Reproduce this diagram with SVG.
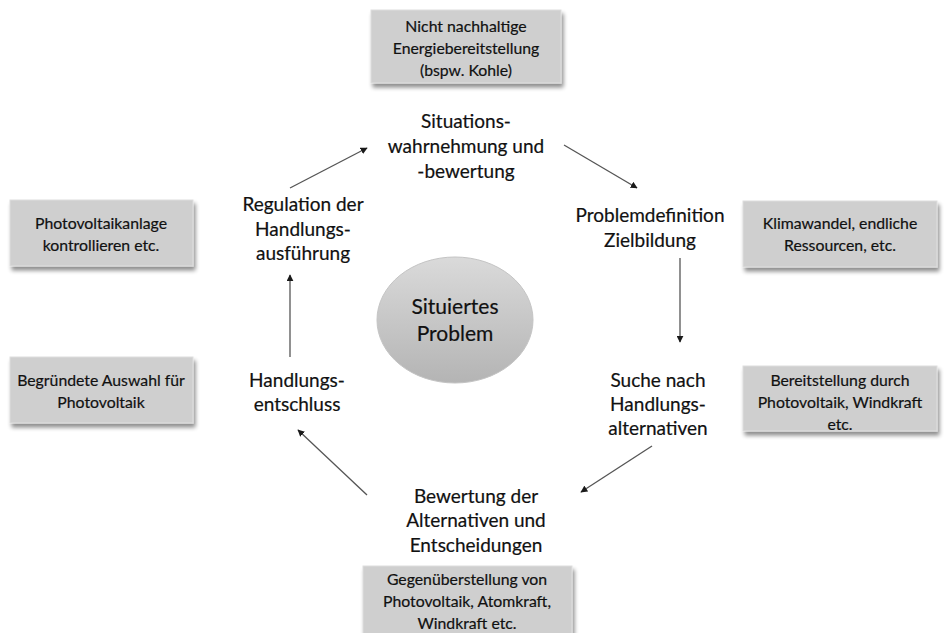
<svg xmlns="http://www.w3.org/2000/svg" width="947" height="633" viewBox="0 0 947 633">
<defs>
<filter id="sh" x="-10%" y="-10%" width="125%" height="135%">
<feGaussianBlur in="SourceAlpha" stdDeviation="2"/>
<feOffset dx="2" dy="4" result="b"/>
<feComponentTransfer><feFuncA type="linear" slope="0.45"/></feComponentTransfer>
<feMerge><feMergeNode/><feMergeNode in="SourceGraphic"/></feMerge>
</filter>
<linearGradient id="eg" x1="0" y1="0" x2="0" y2="1">
<stop offset="0" stop-color="#dadada"/>
<stop offset="1" stop-color="#b4b4b4"/>
</linearGradient>
<marker id="ah" viewBox="0 0 10 10" refX="9" refY="5" markerWidth="7" markerHeight="7" orient="auto" markerUnits="userSpaceOnUse">
<path d="M0,0 L10,5 L0,10 z" fill="#1a1a1a"/>
</marker>
</defs>
<style>
.box{fill:#cfcfcf;stroke:#dedede;stroke-width:1;filter:url(#sh)}
.bt{font-family:Lato,"Open Sans",sans-serif;font-size:15.8px;fill:#111;text-anchor:middle;stroke:#111;stroke-width:0.2}
.lt{font-family:Lato,"Open Sans",sans-serif;font-size:19px;fill:#111;text-anchor:middle;stroke:#111;stroke-width:0.2}
.cn{stroke:#555;stroke-width:1.3;fill:none;marker-end:url(#ah)}
</style>
<rect width="947" height="633" fill="#fff"/>

<g id="box-top"><rect class="box" x="371" y="10" width="190" height="73"/>
<text class="bt" x="466" y="32">Nicht nachhaltige</text>
<text class="bt" x="466" y="54">Energiebereitstellung</text>
<text class="bt" x="466" y="76">(bspw. Kohle)</text></g>

<g id="box-left-top"><rect class="box" x="10" y="200" width="183" height="66"/>
<text class="bt" x="101" y="229">Photovoltaikanlage</text>
<text class="bt" x="101" y="251">kontrollieren etc.</text></g>

<g id="box-right-top"><rect class="box" x="743" y="201" width="194" height="66"/>
<text class="bt" x="840" y="229">Klimawandel, endliche</text>
<text class="bt" x="840" y="251">Ressourcen, etc.</text></g>

<g id="box-left-bottom"><rect class="box" x="10" y="357" width="183" height="66"/>
<text class="bt" x="101" y="386">Begründete Auswahl für</text>
<text class="bt" x="101" y="408">Photovoltaik</text></g>

<g id="box-right-bottom"><rect class="box" x="743" y="366" width="194" height="65"/>
<text class="bt" x="840" y="386">Bereitstellung durch</text>
<text class="bt" x="840" y="408">Photovoltaik, Windkraft</text>
<text class="bt" x="840" y="430">etc.</text></g>

<g id="box-bottom"><rect class="box" x="363" y="566" width="209" height="70"/>
<text class="bt" x="467" y="585">Gegenüberstellung von</text>
<text class="bt" x="467" y="607">Photovoltaik, Atomkraft,</text>
<text class="bt" x="467" y="629">Windkraft etc.</text></g>

<g id="center"><ellipse cx="455" cy="320" rx="78" ry="63" fill="url(#eg)" stroke="#c4c4c4"/>
<text class="lt" x="455" y="314" style="font-size:21px">Situiertes</text>
<text class="lt" x="455" y="341" style="font-size:21px">Problem</text></g>

<g id="n-situation">
<text class="lt" x="466" y="128">Situations-</text>
<text class="lt" x="466" y="153">wahrnehmung und</text>
<text class="lt" x="466" y="178">-bewertung</text></g>

<g id="n-problem">
<text class="lt" x="650" y="222">Problemdefinition</text>
<text class="lt" x="650" y="247">Zielbildung</text></g>

<g id="n-suche">
<text class="lt" x="658" y="387">Suche nach</text>
<text class="lt" x="658" y="411">Handlungs-</text>
<text class="lt" x="658" y="435">alternativen</text></g>

<g id="n-bewertung">
<text class="lt" x="476" y="503">Bewertung der</text>
<text class="lt" x="476" y="527">Alternativen und</text>
<text class="lt" x="476" y="552">Entscheidungen</text></g>

<g id="n-entschluss">
<text class="lt" x="297" y="387">Handlungs-</text>
<text class="lt" x="297" y="411">entschluss</text></g>

<g id="n-regulation">
<text class="lt" x="303" y="211">Regulation der</text>
<text class="lt" x="303" y="236">Handlungs-</text>
<text class="lt" x="303" y="260">ausführung</text></g>

<g id="connectors">
<line class="cn" x1="290" y1="188" x2="367" y2="148"/>
<line class="cn" x1="564" y1="145" x2="637" y2="188"/>
<line class="cn" x1="680" y1="258" x2="680" y2="342"/>
<line class="cn" x1="652" y1="446" x2="581" y2="492"/>
<line class="cn" x1="367" y1="495" x2="298" y2="430"/>
<line class="cn" x1="290" y1="357" x2="290" y2="275"/>
</g>
</svg>
